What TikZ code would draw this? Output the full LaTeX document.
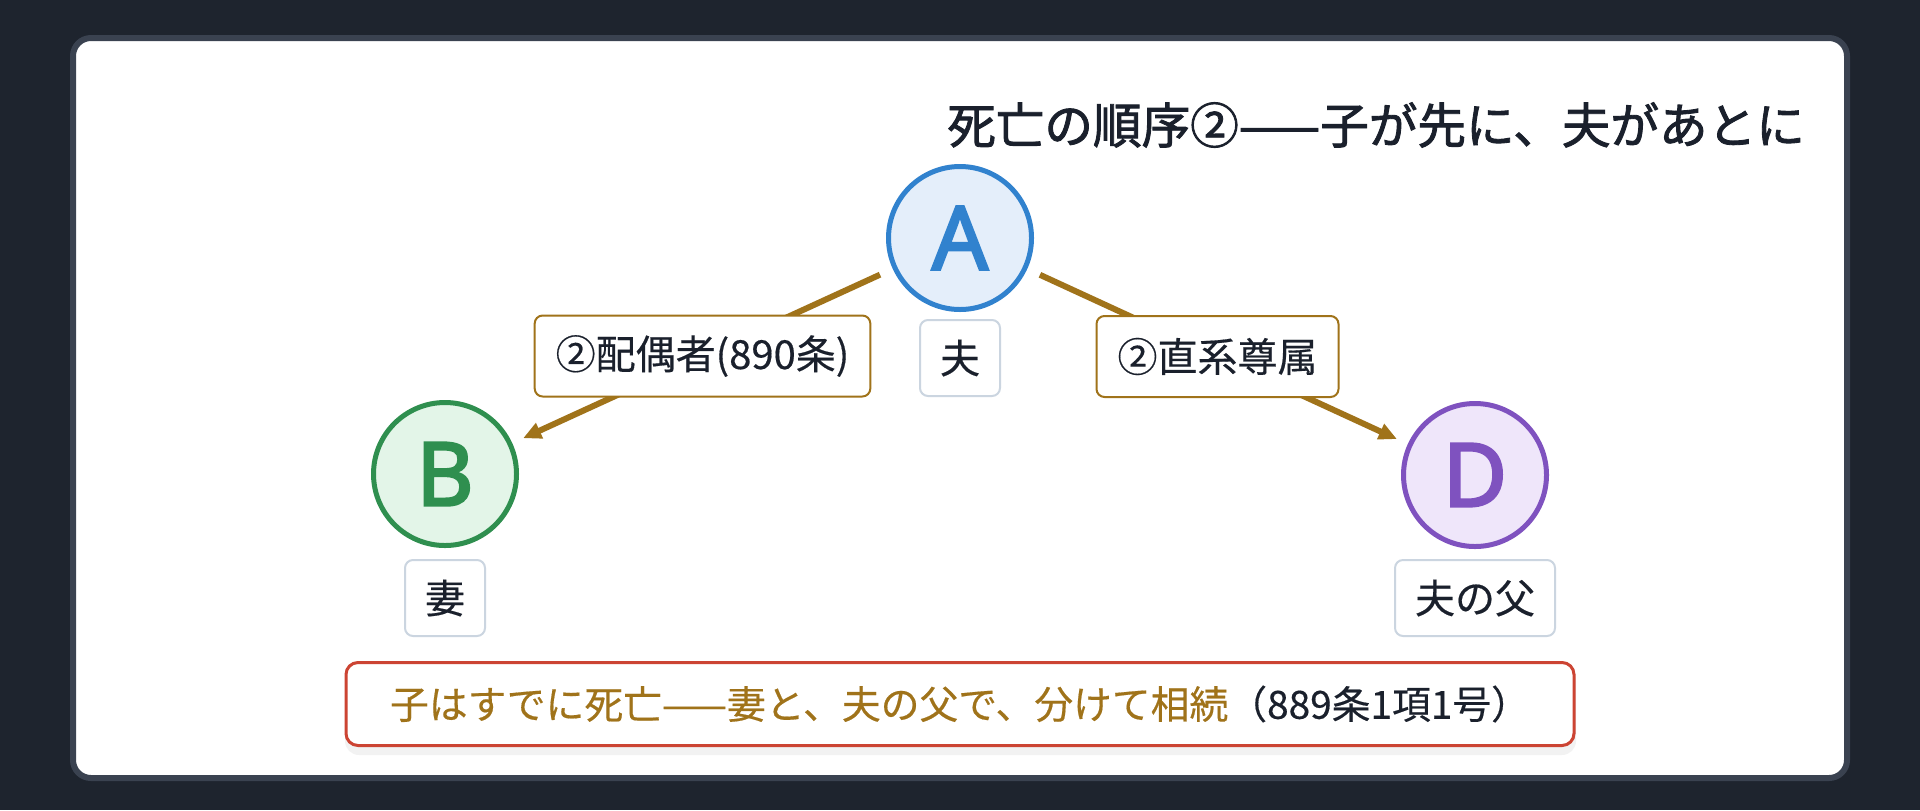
\documentclass[tikz,border=0pt]{standalone}
\usepackage{fontspec}
\setmainfont[FakeBold=0.4]{Noto Sans CJK JP}
\newfontfamily\titlefont[FakeBold=1.8]{Noto Sans CJK JP}
\newfontfamily\letterfont[FakeBold=2.8]{Noto Sans}
\usetikzlibrary{arrows.meta}
\definecolor{bgc}{HTML}{1E242E}
\definecolor{cardb}{HTML}{3A4250}
\definecolor{darktxt}{HTML}{1A202C}
\definecolor{edgec}{HTML}{A0731A}
\definecolor{lgray}{HTML}{CBD5E0}
\definecolor{redc}{HTML}{CC4433}
\definecolor{blueb}{HTML}{3182CE}
\definecolor{bluef}{HTML}{E4EEFA}
\definecolor{greenb}{HTML}{2F8F4F}
\definecolor{greenf}{HTML}{E3F5E8}
\definecolor{purpb}{HTML}{7F52BF}
\definecolor{purpf}{HTML}{EFE6FA}
\tikzset{
  person/.style={circle,minimum size=71.5pt,inner sep=0pt,line width=2.5pt,
    font=\letterfont\fontsize{44}{44}\selectfont},
  namebox/.style={draw=lgray,line width=1pt,fill=white,rounded corners=4pt,
    minimum height=38pt,inner xsep=10pt,inner ysep=0pt,text=darktxt,
    font=\fontsize{20}{24}\selectfont},
  edgelabel/.style={draw=edgec,line width=1pt,fill=white,rounded corners=4pt,
    minimum height=40.5pt,inner xsep=10.5pt,inner ysep=0pt,text=darktxt,
    font=\fontsize{20}{24}\selectfont},
  relline/.style={draw=edgec,line width=3pt,shorten <=7pt,shorten >=6pt,
    -{Triangle[length=9pt,width=8pt]}},
  notebox/.style={draw=redc,line width=1.5pt,fill=white,rounded corners=6pt,
    minimum width=614pt,minimum height=41.5pt,inner sep=0pt,text=darktxt,
    font=\fontsize{19.4}{23}\selectfont},
  titletext/.style={text=darktxt,font=\titlefont\fontsize{24.3}{28}\selectfont,inner sep=0pt}
}
\begin{document}
\begin{tikzpicture}[x=0.5pt,y=-0.5pt]
\useasboundingbox (0,0) rectangle (1920,810);
\fill[bgc] (0,0) rectangle (1920,810);
\draw[cardb,line width=3pt,fill=white,rounded corners=9pt] (73,38) rectangle (1847,778);

\node[titletext] (title) at (1376,125) {死亡の順序②——子が先に、夫があとに};

\node[person,draw=blueb,fill=bluef,text=blueb] (A) at (960,238) {A};
\node[person,draw=greenb,fill=greenf,text=greenb] (B) at (445,474) {B};
\node[person,draw=purpb,fill=purpf,text=purpb] (D) at (1475,475) {D};

\node[namebox] (nA) at (960,358) {夫};
\node[namebox] (nB) at (445,598) {妻};
\node[namebox] (nD) at (1475,598) {夫の父};

\draw[relline] (A) -- (B) node[pos=0.5,edgelabel] (lB) {②配偶者(890条)};
\draw[relline] (A) -- (D) node[pos=0.5,edgelabel] (lD) {②直系尊属};

\fill[black,opacity=0.05,rounded corners=7pt] (345,667) rectangle (1576,755);
\node[notebox] (note) at (960,704) {{\color{edgec}子はすでに死亡——妻と、夫の父で、分けて相続}（889条1項1号）};
\end{tikzpicture}
\end{document}
